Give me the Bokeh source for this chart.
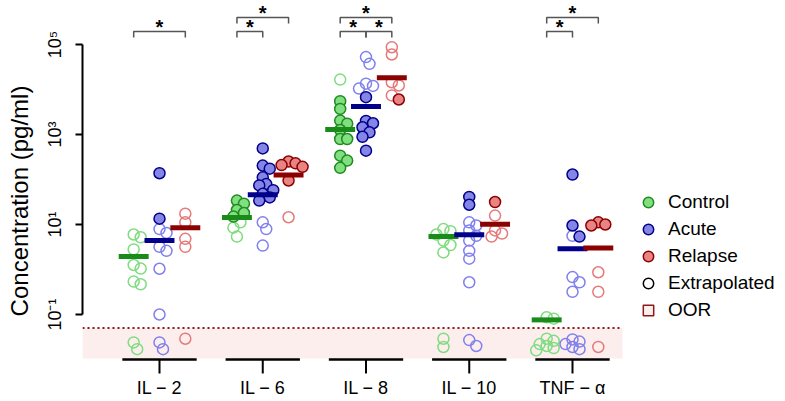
import math
from bokeh.plotting import figure
from bokeh.models import Range1d, FixedTicker, ColumnDataSource, Legend, LegendItem
from bokeh.core.properties import value
from bokeh.embed import file_html
from bokeh.resources import INLINE

# ---------------- data (pg/ml) ----------------
cytokines = ["IL \u2212 2", "IL \u2212 6", "IL \u2212 8", "IL \u2212 10", "TNF \u2212 \u03b1"]
cohorts = ["Control", "Acute", "Relapse"]

control_measured = [[], [34, 29, 21, 18, 15],
                    [5500, 3700, 2040, 1740, 1260, 794, 794, 339, 263, 182], [], []]
control_extrap = [[6.0, 5.2, 2.8, 1.26, 1.05, 0.54, 0.47], [11.2, 8.5, 5.4], [16600],
                  [7.9, 7.1, 6.0, 4.4, 3.5, 2.4], [0.087, 0.081]]
control_oor = [[0.024, 0.017], [], [], [0.029, 0.019],
               [0.029, 0.026, 0.022, 0.020, 0.018, 0.016]]

acute_measured = [[138, 13.5], [490, 204, 174, 112, 79, 74, 58, 48, 40, 34],
                  [6760, 2000, 1780, 1450, 1120, 890, 437], [41, 27.5], [129, 9.5, 5.4]]
acute_extrap = [[7.9, 6.5, 3.2, 2.6, 1.04, 0.10], [11.2, 7.9, 3.4],
                [52500, 37200, 13500, 12000, 10500],
                [11.2, 9.5, 7.4, 5.6, 4.4, 2.6, 1.74, 0.52], [5.6, 0.68, 0.52, 0.32]]
acute_oor = [[0.024, 0.017], [], [], [0.027, 0.020], [0.028, 0.025, 0.022, 0.019, 0.017]]

relapse_measured = [[], [251, 229, 209, 191, 95], [6000], [31.6], [11.2, 10.0, 9.5]]
relapse_extrap = [[17.4, 11.2, 4.8, 3.2], [14.5], [87000, 60000, 14500, 12300, 7400],
                  [15.8, 7.4, 6.3, 5.4], [0.87, 0.32]]
relapse_oor = [[0.029], [], [], [], [0.019]]

control_mean = [1.95, 14.4, 1290, 5.4, 0.076]
acute_mean = [4.4, 46, 4170, 5.9, 2.9]
relapse_mean = [8.5, 126, 18200, 10.2, 3.0]

oor_limit = 0.05
oor_floor = 0.01
y_ticks = [0.1, 10, 1000, 100000]
y_tick_labels = ["10\u207b\u00b9", "10\u00b9", "10\u00b3", "10\u2075"]

# significant pairs: (cytokine index, cohort a, cohort b)
sig_pairs = [(0, "Control", "Relapse"),
             (1, "Control", "Acute"), (1, "Control", "Relapse"),
             (2, "Control", "Acute"), (2, "Acute", "Relapse"), (2, "Control", "Relapse"),
             (4, "Control", "Acute"), (4, "Control", "Relapse")]

# ---------------- styles ----------------
FONT = "Liberation Sans"
fill_col = {"Control": "#80E080", "Acute": "#8585E6", "Relapse": "#E88484"}
edge_col = {"Control": "#1F8A1F", "Acute": "#00008B", "Relapse": "#8B0000"}
open_col = {"Control": "#7FDC7F", "Acute": "#8080EE", "Relapse": "#E67A7A"}
bar_col = {"Control": "#1A8A1A", "Acute": "#00008B", "Relapse": "#8B0000"}
offset = {"Control": -0.25, "Acute": 0.0, "Relapse": 0.25}

measured = {"Control": control_measured, "Acute": acute_measured, "Relapse": relapse_measured}
extrap = {"Control": control_extrap, "Acute": acute_extrap, "Relapse": relapse_extrap}
oor = {"Control": control_oor, "Acute": acute_oor, "Relapse": relapse_oor}
means = {"Control": control_mean, "Acute": acute_mean, "Relapse": relapse_mean}

X0, XP, XEND = 0.2542, 5.484, 7.063
LOG_BOTTOM, LOG_TOP = -2.933, 5.978
Y0, Y1 = 10 ** LOG_BOTTOM, 10 ** LOG_TOP

p = figure(width=785, height=401, x_range=Range1d(X0, XEND), y_range=Range1d(Y0, Y1),
           y_axis_type="log", output_backend="svg", toolbar_location=None,
           min_border_left=82, min_border_right=0, min_border_top=0, min_border_bottom=0)
p.outline_line_color = None
p.xgrid.visible = False
p.ygrid.visible = False
p.xaxis.visible = False

# OOR shaded region and limit line
p.quad(left=[X0], right=[XP], bottom=[oor_floor * 1.06], top=[oor_limit], fill_color="#FDEEEE",
       line_color=None)
p.segment(x0=[X0], x1=[XP], y0=[oor_limit], y1=[oor_limit], line_color="#8B1A1A",
          line_width=2, line_dash="2 3")

# simple beeswarm offsets (pixel-like units)
XPX, YPX, DMIN, STEP = 103.25, 45.0, 7.0, 3.5


def swarm(vals):
    placed = []
    order = sorted(range(len(vals)), key=lambda i: -vals[i])
    res = [0.0] * len(vals)
    for i in order:
        yp = math.log10(vals[i]) * YPX
        for k in range(0, 40):
            m = (k + 1) // 2 * (1 if k % 2 else -1)
            xp = m * STEP
            if all((xp - a) ** 2 + (yp - b) ** 2 >= DMIN ** 2 for a, b in placed):
                break
        placed.append((xp, yp))
        res[i] = xp / XPX
    return res


open_x, open_y, open_c = [], [], []
fill_x, fill_y, fill_f, fill_e = [], [], [], []
for c in cohorts:
    for g in range(len(cytokines)):
        ms, ex, oo = measured[c][g], extrap[c][g], oor[c][g]
        allv = ms + ex + oo
        if not allv:
            continue
        offs = swarm(allv)
        base = g + 1 + offset[c]
        n1 = len(ms)
        for i, v in enumerate(allv):
            if i < n1:
                fill_x.append(base + offs[i]); fill_y.append(v)
                fill_f.append(fill_col[c]); fill_e.append(edge_col[c])
            else:
                open_x.append(base + offs[i]); open_y.append(v); open_c.append(open_col[c])

p.scatter(x="x", y="y", size=11, fill_color=None, line_color="c", line_width=1.5,
          source=ColumnDataSource(dict(x=open_x, y=open_y, c=open_c)))
p.scatter(x="x", y="y", size=11, fill_color="f", line_color="e", line_width=1.5,
          source=ColumnDataSource(dict(x=fill_x, y=fill_y, f=fill_f, e=fill_e)))

# mean bars
for c in cohorts:
    xs = [g + 1 + offset[c] for g in range(len(cytokines))]
    p.segment(x0=[x - 0.145 for x in xs], x1=[x + 0.145 for x in xs],
              y0=means[c], y1=means[c], line_color=bar_col[c], line_width=5)

# broken x axis: segments, ticks, labels
cats = list(range(1, len(cytokines) + 1))
n = len(cats)
p.segment(x0=[k - 0.36 for k in cats], x1=[k + 0.36 for k in cats], y0=[oor_floor] * n,
          y1=[oor_floor] * n, line_color="black", line_width=2.5)
p.segment(x0=cats, x1=cats, y0=[oor_floor] * n, y1=[10 ** -2.31] * n,
          line_color="black", line_width=2)
p.text(x=cats, y=[10 ** -2.644] * n, text=cytokines, text_font=value(FONT),
       text_font_size="18px", text_align="center", text_baseline="middle", text_color="black")

# significance brackets
LV = [(10 ** 5.289, 10 ** 5.156, 10 ** 5.40), (10 ** 5.60, 10 ** 5.467, 10 ** 5.69)]
bx, by, sx, sy = [], [], [], []
for g, a, b in sig_pairs:
    others = [q for q in sig_pairs if q[0] == g and q != (g, a, b)]
    span2 = abs(cohorts.index(a) - cohorts.index(b)) == 2
    lvl = 1 if (span2 and others) else 0
    yb, yt, ys = LV[lvl]
    xa, xb = g + 1 + offset[a], g + 1 + offset[b]
    bx.append([xa, xa, xb, xb]); by.append([yt, yb, yb, yt])
    sx.append((xa + xb) / 2); sy.append(ys)
p.multi_line(xs=bx, ys=by, line_color="#555555", line_width=1.5)
p.text(x=sx, y=sy, text=["*"] * len(sx), text_font=value(FONT), text_font_size="20px",
       text_font_style="bold", text_align="center", text_baseline="middle", text_color="black")

# y axis
ya = p.yaxis[0]
ya.ticker = FixedTicker(ticks=y_ticks, minor_ticks=[])
ya.major_label_overrides = {t: l for t, l in zip(y_ticks, y_tick_labels)}
ya.bounds = (y_ticks[0], y_ticks[-1])
ya.major_label_orientation = "vertical"
ya.axis_line_width = 2
ya.major_tick_line_width = 2
ya.major_tick_out = 7
ya.major_tick_in = 0
ya.minor_tick_out = 0
ya.minor_tick_in = 0
ya.major_label_standoff = 10
ya.major_label_text_font = FONT
ya.major_label_text_font_size = "18px"
ya.major_label_text_color = "black"
ya.axis_label = "Concentration (pg/ml)"
ya.axis_label_text_font = FONT
ya.axis_label_text_font_size = "24px"
ya.axis_label_text_font_style = "normal"
ya.axis_label_text_color = "black"
ya.axis_label_standoff = 10

# legend
nan = float("nan")
r_c = p.scatter(x=[nan], y=[nan], fill_color=fill_col["Control"], line_color=edge_col["Control"], line_width=1.5)
r_a = p.scatter(x=[nan], y=[nan], fill_color=fill_col["Acute"], line_color=edge_col["Acute"], line_width=1.5)
r_r = p.scatter(x=[nan], y=[nan], fill_color=fill_col["Relapse"], line_color=edge_col["Relapse"], line_width=1.5)
r_e = p.scatter(x=[nan], y=[nan], fill_color=None, line_color="black", line_width=1.5)
r_o = p.scatter(x=[nan], y=[nan], marker="square", fill_color="#FDEEEE", line_color="#8B1A1A", line_width=1.5)
legend = Legend(items=[LegendItem(label="Control", renderers=[r_c]),
                       LegendItem(label="Acute", renderers=[r_a]),
                       LegendItem(label="Relapse", renderers=[r_r]),
                       LegendItem(label="Extrapolated", renderers=[r_e]),
                       LegendItem(label="OOR", renderers=[r_o])],
                location=(553, 78), glyph_width=26, glyph_height=26, label_height=20,
                spacing=1, padding=0, margin=0, label_standoff=7,
                label_text_font=FONT, label_text_font_size="19px", label_text_color="black",
                border_line_color=None, background_fill_alpha=0)
p.add_layout(legend, "center")

open("out.html", "w").write(file_html(p, INLINE))
